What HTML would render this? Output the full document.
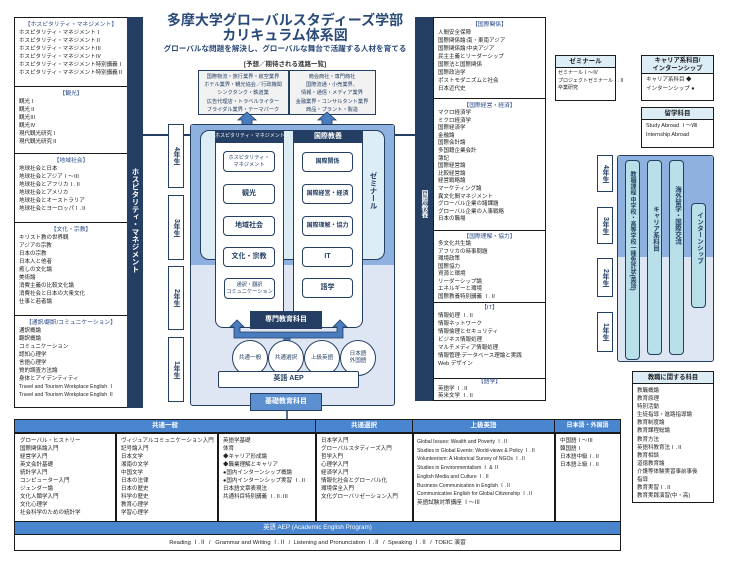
<!DOCTYPE html>
<html><head><meta charset="utf-8">
<style>
*{margin:0;padding:0;box-sizing:border-box}
body{width:730px;height:561px;background:#fff;position:relative;overflow:hidden;font-family:"Liberation Sans","Noto Sans CJK JP",sans-serif;color:#222}
.a{position:absolute}
.bx{position:absolute;border:1.5px solid #1a1a1a;background:#fff}
.ls{font-size:5.5px;line-height:8px;padding-left:4px;white-space:nowrap}
.hd{font-size:5.8px;line-height:8px;text-align:center;color:#2a4a8a;padding-top:3px}
.dk{position:absolute;background:#243f63}
.vt{writing-mode:vertical-rl;color:#fff;font-weight:bold;font-size:7.5px;letter-spacing:0px}
.yr{position:absolute;border:1.5px solid #243f63;background:#fff;font-size:7px;font-weight:bold;color:#243f63;display:flex;align-items:center;justify-content:center;writing-mode:vertical-rl}
.btn{position:absolute;border:1.5px solid #243f63;border-radius:4px;background:#fff;font-size:7px;font-weight:bold;color:#243f63;display:flex;align-items:center;justify-content:center;text-align:center;line-height:8px}
.cir{position:absolute;width:36px;height:36px;border:1.5px solid #243f63;border-radius:50%;background:#fff;font-size:5.6px;color:#243f63;display:flex;align-items:center;justify-content:center;text-align:center;line-height:7px}
.pill{position:absolute;background:#b9dfe8;border:1.2px solid #243f63;border-radius:4px;writing-mode:vertical-rl;font-size:6.5px;font-weight:bold;color:#243f63;display:flex;align-items:center;padding-top:14px}
.th{position:absolute;background:#4a86d0;color:#fff;font-size:6.5px;font-weight:bold;text-align:center;line-height:12px;border-right:1.5px solid #1a1a1a}
</style></head><body>

<!-- left column -->
<div class="bx" style="left:14px;top:17px;width:114px;height:70px"><div class="hd">【ホスピタリティ・マネジメント】</div><div class="ls">ホスピタリティ・マネジメントⅠ<br>ホスピタリティ・マネジメントⅡ<br>ホスピタリティ・マネジメントⅢ<br>ホスピタリティ・マネジメントⅣ<br>ホスピタリティ・マネジメント特別講義Ⅰ<br>ホスピタリティ・マネジメント特別講義Ⅱ</div></div>
<div class="bx" style="left:14px;top:86px;width:114px;height:68px"><div class="hd">【観光】</div><div class="ls">観光Ⅰ<br>観光Ⅱ<br>観光Ⅲ<br>観光Ⅳ<br>現代観光研究Ⅰ<br>現代観光研究Ⅱ</div></div>
<div class="bx" style="left:14px;top:153px;width:114px;height:70px"><div class="hd">【地域社会】</div><div class="ls">地球社会と日本<br>地球社会とアジアⅠ〜Ⅲ<br>地球社会とアフリカⅠ.Ⅱ<br>地球社会とアメリカ<br>地球社会とオーストラリア<br>地球社会とヨーロッパⅠ.Ⅱ</div></div>
<div class="bx" style="left:14px;top:222px;width:114px;height:94px"><div class="hd">【文化・宗教】</div><div class="ls">キリスト教の世界観<br>アジアの宗教<br>日本の宗教<br>日本人と他者<br>癒しの文化論<br>美術論<br>消費主義の比較文化論<br>消費社会と日本の大衆文化<br>仕事と若者論</div></div>
<div class="bx" style="left:14px;top:315px;width:114px;height:93px"><div class="hd">【通訳/翻訳/コミュニケーション】</div><div class="ls">通訳概論<br>翻訳概論<br>コミュニケーション<br>認知心理学<br>言語心理学<br>質的調査方法論<br>身体とアイデンティティ<br><span style="font-size:5.2px">Travel and Tourism Workplace English Ⅰ<br>Travel and Tourism Workplace English Ⅱ</span></div></div>
<div class="dk" style="left:127px;top:17px;width:16px;height:391px"></div>
<div class="a vt" style="left:130px;top:168px">ホスピタリティ・マネジメント</div>
<div class="a" style="left:143px;top:134px;width:48px;height:1.5px;background:#243f63"></div>
<div class="a" style="left:393px;top:134px;width:23px;height:1.5px;background:#243f63"></div>

<!-- title -->
<div class="a" style="left:140px;top:13px;width:290px;text-align:center;font-size:14px;font-weight:bold;color:#2a4a7a;line-height:15px">多摩大学グローバルスタディーズ学部<br>カリキュラム体系図</div>
<div class="a" style="left:140px;top:43px;width:290px;text-align:center;font-size:7.6px;font-weight:bold;color:#2a4a7a;white-space:nowrap">グローバルな問題を解決し、グローバルな舞台で活躍する人材を育てる</div>
<div class="a" style="left:140px;top:58px;width:290px;text-align:center;font-size:6.5px;font-weight:bold;color:#333">[予想／期待される進路一覧]</div>
<div class="a" style="left:198px;top:70px;width:178px;height:45px;border:1.5px solid #243f63;background:#f2f2f2"></div>
<div class="a" style="left:288px;top:70px;width:1.5px;height:45px;background:#243f63"></div>
<div class="a" style="left:198px;top:73px;width:90px;text-align:center;font-size:5.2px;line-height:8.2px;color:#243f63;white-space:nowrap">国際物流・旅行業界・航空業界<br>ホテル業界・観光協会／行政機関<br>シンクタンク・鉄道業<br>広告代理店・トラベルライター<br>ブライダル業界・テーマパーク</div>
<div class="a" style="left:288px;top:73px;width:88px;text-align:center;font-size:5.2px;line-height:8.2px;color:#243f63;white-space:nowrap">商会商社・専門商社<br>国際流通・小売業界、<br>情報・通信・メディア業界<br>金融業界・コンサルタント業界<br>商品・プラント・製造</div>
<svg class="a" style="left:0;top:0" width="730" height="561">
<polygon points="242,125 242,120 238,120 247,112 256,120 252,120 252,125" fill="#4a7cc0" stroke="#243f63" stroke-width=".8"/>
<polygon points="322,125 322,120 318,120 327,112 336,120 332,120 332,125" fill="#4a7cc0" stroke="#243f63" stroke-width=".8"/>
</svg>

<!-- center block -->
<div class="a" style="left:190px;top:124px;width:205px;height:282px;border:1.5px solid #243f63;background:#dde6f2;border-radius:3px"></div>
<div class="a" style="left:191px;top:125px;width:203px;height:140px;background:#8fb1e0;border-radius:3px 3px 0 0"></div>
<div class="a" style="left:200px;top:130px;width:185px;height:130px;border:1.5px solid #243f63;background:#dcedf5;border-radius:9px"></div>
<div class="a" style="left:215px;top:130px;width:69px;height:198px;border:1.5px solid #243f63;background:#fff;border-radius:0 0 8px 8px"></div>
<div class="a" style="left:293px;top:130px;width:70px;height:198px;border:1.5px solid #243f63;background:#fff;border-radius:0 0 8px 8px"></div>
<div class="dk" style="left:215px;top:130px;width:69px;height:13px;color:#fff;font-size:5px;line-height:13px;text-align:center;white-space:nowrap">ホスピタリティ・マネジメント</div>
<div class="dk" style="left:293px;top:130px;width:70px;height:13px;color:#fff;font-size:7px;font-weight:bold;line-height:13px;text-align:center">国際教養</div>
<div class="btn" style="left:223px;top:151px;width:52px;height:21px;font-size:5.2px;font-weight:normal;line-height:7px">ホスピタリティ・<br>マネジメント</div>
<div class="btn" style="left:223px;top:184px;width:52px;height:20px">観光</div>
<div class="btn" style="left:223px;top:216px;width:52px;height:20px">地域社会</div>
<div class="btn" style="left:223px;top:247px;width:52px;height:20px">文化・宗教</div>
<div class="btn" style="left:224px;top:278px;width:51px;height:21px;font-size:5.2px;font-weight:normal;line-height:7px;white-space:nowrap">通訳・翻訳<br>コミュニケーション</div>
<div class="btn" style="left:302px;top:152px;width:51px;height:20px;font-size:6px">国際関係</div>
<div class="btn" style="left:302px;top:184px;width:51px;height:20px;font-size:6px">国際経営・経済</div>
<div class="btn" style="left:302px;top:216px;width:51px;height:20px;font-size:6px">国際理解・協力</div>
<div class="btn" style="left:302px;top:247px;width:51px;height:20px">IT</div>
<div class="btn" style="left:302px;top:278px;width:51px;height:20px">語学</div>
<div class="a" style="left:368px;top:172px;writing-mode:vertical-rl;font-size:7.5px;font-weight:bold;color:#243f63">ゼミナール</div>
<svg class="a" style="left:0;top:0" width="730" height="561">
<g fill="#4a7cc0" stroke="#243f63" stroke-width=".8">
<rect x="284" y="334" width="6" height="40"/>
<polygon points="234,338 234,327 230,327 237,320 244,327 240,327 240,332 337,332 337,327 333,327 340,320 347,327 343,327 343,338"/>
</g>
<line x1="287" y1="410" x2="287" y2="420" stroke="#243f63" stroke-width="1.5"/>
</svg>
<div class="dk" style="left:250px;top:311px;width:72px;height:18px;color:#fff;font-size:7px;font-weight:bold;line-height:18px;text-align:center">専門教育科目</div>
<div class="cir" style="left:232px;top:340px">共通一般</div>
<div class="cir" style="left:268px;top:340px">共通選択</div>
<div class="cir" style="left:304px;top:340px">上級英語</div>
<div class="cir" style="left:340px;top:340px">日本語<br>外国語</div>
<div class="a" style="left:218px;top:371px;width:141px;height:17px;border:1.5px solid #243f63;background:#fff;border-radius:2px;font-size:7px;font-weight:bold;color:#243f63;text-align:center;line-height:14px">英語 AEP</div>
<div class="a" style="left:250px;top:393px;width:72px;height:18px;border:1.5px solid #243f63;background:#5b8fd0;color:#fff;font-size:7px;font-weight:bold;text-align:center;line-height:15px">基礎教育科目</div>

<div class="yr" style="left:168px;top:124px;width:16px;height:64px">4年生</div>
<div class="yr" style="left:168px;top:195px;width:16px;height:65px">3年生</div>
<div class="yr" style="left:168px;top:266px;width:16px;height:64px">2年生</div>
<div class="yr" style="left:168px;top:337px;width:16px;height:65px">1年生</div>

<!-- right list column -->
<div class="dk" style="left:415px;top:17px;width:19px;height:384px"></div>
<div class="a vt" style="left:419px;top:190px;font-size:7px">国際教養</div>
<div class="bx" style="left:433px;top:17px;width:113px;height:82px"><div class="hd">【国際関係】</div><div class="ls">人間安全保障<br>国際関係論:南・東南アジア<br>国際関係論:中央アジア<br>民主主義とリーダーシップ<br>国際法と国際関係<br>国際政治学<br>ポストモダニズムと社会<br>日本近代史</div></div>
<div class="bx" style="left:433px;top:98px;width:113px;height:133px"><div class="hd">【国際経営・経済】</div><div class="ls" style="line-height:7.6px">マクロ経済学<br>ミクロ経済学<br>国際経済学<br>金融論<br>国際会計論<br>多国籍企業会計<br>簿記<br>国際経営論<br>比較経営論<br>経営戦略論<br>マーケティング論<br>異文化間マネジメント<br>グローバル企業の諸課題<br>グローバル企業の人事戦略<br>日本の職場</div></div>
<div class="bx" style="left:433px;top:230px;width:113px;height:73px"><div class="hd" style="padding-top:2px">【国際理解・協力】</div><div class="ls" style="line-height:7.5px">多文化共生論<br>アフリカの時事問題<br>環境政策<br>国際協力<br>資源と環境<br>リーダーシップ論<br>エネルギーと環境<br>国際教養特別講義 Ⅰ.Ⅱ</div></div>
<div class="bx" style="left:433px;top:302px;width:113px;height:77px"><div class="hd" style="padding-top:1px">【IT】</div><div class="ls">情報処理 Ⅰ.Ⅱ<br>情報ネットワーク<br>情報倫理とセキュリティ<br>ビジネス情報処理<br>マルチメディア情報処理<br>情報管理:データベース理論と実践<br>Web デザイン</div></div>
<div class="bx" style="left:433px;top:378px;width:113px;height:23px"><div class="hd" style="padding-top:0px;line-height:6.5px">【語学】</div><div class="ls" style="line-height:7px">英語学 Ⅰ.Ⅱ<br>英米文学 Ⅰ.Ⅱ</div></div>

<!-- right side boxes -->
<div class="bx" style="left:555px;top:55px;width:61px;height:46px"><div style="background:#dcedf5;border-bottom:1px solid #1a1a1a;font-size:6.5px;font-weight:bold;text-align:center;line-height:11px">ゼミナール</div><div class="ls" style="padding-left:2px;font-size:5px;line-height:7.5px;padding-top:2px">ゼミナールⅠ〜Ⅳ<br>プロジェクトゼミナールⅠ.Ⅱ<br>卒業研究</div></div>
<div class="bx" style="left:641px;top:55px;width:73px;height:46px"><div style="background:#dcedf5;border-bottom:1px solid #1a1a1a;font-size:6.3px;font-weight:bold;text-align:center;line-height:7.5px;padding:1px 0">キャリア系科目/<br>インターンシップ</div><div class="ls" style="font-size:5.5px;line-height:9px;padding-top:2px">キャリア系科目 ◆<br>インターンシップ ●</div></div>
<div class="bx" style="left:641px;top:107px;width:73px;height:41px"><div style="background:#dcedf5;border-bottom:1px solid #1a1a1a;font-size:6.5px;font-weight:bold;text-align:center;line-height:11px">留学科目</div><div class="ls" style="font-size:5.5px;line-height:9px;padding-top:2px">Study Abroad Ⅰ〜Ⅷ<br>Internship Abroad</div></div>

<div class="yr" style="left:597px;top:155px;width:16px;height:37px">4年生</div>
<div class="yr" style="left:597px;top:207px;width:16px;height:37px">3年生</div>
<div class="yr" style="left:597px;top:258px;width:16px;height:39px">2年生</div>
<div class="yr" style="left:597px;top:312px;width:16px;height:40px">1年生</div>
<div class="a" style="left:617px;top:155px;width:97px;height:207px;border:1.5px solid #243f63;background:#dde6f2;border-radius:3px"></div>
<div class="a" style="left:618px;top:156px;width:95px;height:101px;background:#8fb1e0;border-radius:3px 3px 0 0"></div>
<div class="pill" style="left:625px;top:160px;width:15px;height:200px;font-size:6px;padding-top:10px">教職課程 中学校・高等学校一種免許状(英語)</div>
<div class="pill" style="left:647px;top:160px;width:15px;height:195px;padding-top:45px">キャリア系科目</div>
<div class="pill" style="left:669px;top:160px;width:15px;height:195px;padding-top:25px">海外留学・国際交流</div>
<div class="pill" style="left:691px;top:203px;width:15px;height:105px;padding-top:8px">インターンシップ</div>

<!-- bottom table -->
<div class="a" style="left:14px;top:419px;width:607px;height:132px;border:1.5px solid #1a1a1a;background:#fff"></div>
<div class="th" style="left:15px;top:420px;width:301px">共通一般</div>
<div class="th" style="left:316px;top:420px;width:97px">共通選択</div>
<div class="th" style="left:413px;top:420px;width:142px">上級英語</div>
<div class="th" style="left:555px;top:420px;width:65px;border-right:none;font-size:6px">日本語・外国語</div>
<div class="a" style="left:115px;top:432px;width:1.5px;height:89px;background:#1a1a1a"></div>
<div class="a" style="left:217px;top:432px;width:1.5px;height:89px;background:#1a1a1a"></div>
<div class="a" style="left:315px;top:432px;width:1.5px;height:89px;background:#1a1a1a"></div>
<div class="a" style="left:412px;top:432px;width:1.5px;height:89px;background:#1a1a1a"></div>
<div class="a" style="left:554px;top:432px;width:1.5px;height:89px;background:#1a1a1a"></div>
<div class="a" style="left:15px;top:432px;width:605px;height:1.5px;background:#1a1a1a"></div>
<div class="a ls" style="left:16px;top:437px">グローバル・ヒストリー<br>国際関係論入門<br>経営学入門<br>英文会計基礎<br>統計学入門<br>コンピューター入門<br>ジェンダー論<br>文化人類学入門<br>文化心理学<br>社会科学のための統計学</div>
<div class="a ls" style="left:117px;top:437px">ヴィジュアルコミュニケーション入門<br>記号論入門<br>日本文学<br>湘南の文学<br>中国文学<br>日本の法律<br>日本の歴史<br>科学の歴史<br>教育心理学<br>学習心理学</div>
<div class="a ls" style="left:219px;top:437px">英語学基礎<br>体育<br>◆キャリア形成論<br>◆職業理解とキャリア<br>●国内インターンシップ概論<br>●国内インターンシップ実習 Ⅰ.Ⅱ<br>日本語文章表現法<br>共通科目特別講義 Ⅰ.Ⅱ.Ⅲ</div>
<div class="a ls" style="left:317px;top:437px">日本学入門<br>グローバルスタディーズ入門<br>哲学入門<br>心理学入門<br>経済学入門<br>情報化社会とグローバル化<br>環境保全入門<br>文化グローバリゼーション入門</div>
<div class="a ls" style="left:413px;top:438px;font-size:5.1px;line-height:8.7px">Global Issues: Wealth and Poverty Ⅰ.Ⅱ<br>Studies in Global Events: World-views &amp; Policy Ⅰ.Ⅱ<br>Volunteerism: A Historical Survey of NGOs Ⅰ.Ⅱ<br>Studies in Environmentalism Ⅰ &amp; Ⅱ<br>English Media and Culture Ⅰ.Ⅱ<br>Business Communication in English Ⅰ.Ⅱ<br>Communicative English for Global Citizenship Ⅰ.Ⅱ<br><span style="font-size:5.6px">英語試験対策講座 Ⅰ〜Ⅲ</span></div>
<div class="a ls" style="left:556px;top:437px">中国語Ⅰ〜Ⅲ<br>韓国語Ⅰ<br>日本語中級Ⅰ.Ⅱ<br>日本語上級Ⅰ.Ⅱ</div>
<div class="a" style="left:15px;top:521px;width:605px;height:14px;background:#4a86d0;border-top:1.5px solid #1a1a1a;border-bottom:1.5px solid #1a1a1a;color:#fff;font-size:6.3px;text-align:center;line-height:12px">英語 AEP (Academic English Program)</div>
<div class="a" style="left:15px;top:537px;width:605px;text-align:center;font-size:5.8px;line-height:12px;color:#222;white-space:nowrap">Reading Ⅰ.Ⅱ &nbsp;/ &nbsp; Grammar and Writing Ⅰ.Ⅱ &nbsp;/ &nbsp;Listening and Pronunciation Ⅰ.Ⅱ &nbsp;/ &nbsp;Speaking Ⅰ.Ⅱ &nbsp;/ &nbsp;TOEIC 演習</div>

<div class="bx" style="left:632px;top:371px;width:82px;height:132px"><div style="background:#dcedf5;border-bottom:1px solid #1a1a1a;font-size:6.3px;font-weight:bold;text-align:center;line-height:11px">教職に関する科目</div><div class="ls" style="font-size:5.5px;line-height:8.1px;padding-top:3px">教職概論<br>教育原理<br>特別活動<br>生徒指導・進路指導論<br>教育制度論<br>教育課程総論<br>教育方法<br>英語科教育法Ⅰ.Ⅱ<br>教育相談<br>道徳教育論<br>介護等体験実習事前事後<br>指導<br>教育実習Ⅰ.Ⅱ<br>教育実践演習(中・高)</div></div>

</body></html>
